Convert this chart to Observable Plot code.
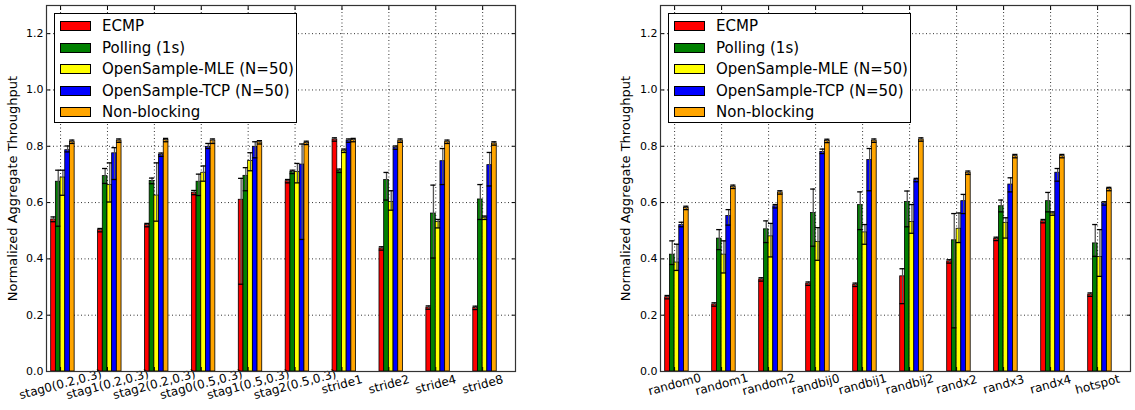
<!DOCTYPE html>
<html><head><meta charset="utf-8">
<script src="https://cdn.jsdelivr.net/npm/d3@7"></script>
<script src="https://cdn.jsdelivr.net/npm/@observablehq/plot@0.6"></script>
<style>
body{margin:0;background:#fff;font-family:"DejaVu Sans",sans-serif;}
#wrap{display:flex;width:1135px;height:410px;}
.panel{position:relative;}
.legend{position:absolute;top:13px;width:241px;height:108px;border:1px solid #000;background:#fff;}
.row{position:absolute;left:0;height:20px;}
.sw{position:absolute;left:5px;width:29px;height:8px;border:1px solid #000;}
.lab{position:absolute;left:47px;font-size:15px;line-height:20px;white-space:nowrap;color:#000;}
</style>
</head><body><div id="wrap"></div>
<script>
const series = ["ECMP","Polling (1s)","OpenSample-MLE (N=50)","OpenSample-TCP (N=50)","Non-blocking"];
const colors = ["#ff0000","#008000","#ffff00","#0000ff","#ffa500"];
const yTicks = [0,0.2,0.4,0.6,0.8,1.0,1.2];
const yTitle = "Normalized Aggregate Throughput";

// Left panel
const leftGroups = ["stag0(0.2,0.3)","stag1(0.2,0.3)","stag2(0.2,0.3)","stag0(0.5,0.3)","stag1(0.5,0.3)","stag2(0.5,0.3)","stride1","stride2","stride4","stride8"];
const leftECMP     = [0.540,0.502,0.520,0.635,0.610,0.676,0.824,0.437,0.227,0.226];
const leftECMPLo   = [0.532,0.496,0.514,0.628,0.310,0.670,0.818,0.431,0.221,0.220];
const leftECMPHi   = [0.549,0.508,0.526,0.643,0.686,0.682,0.830,0.443,0.233,0.232];
const leftPoll     = [0.674,0.694,0.677,0.674,0.695,0.709,0.713,0.680,0.561,0.611];
const leftPollLo   = [0.516,0.668,0.667,0.625,0.642,0.703,0.707,0.609,0.403,0.540];
const leftPollHi   = [0.715,0.721,0.687,0.701,0.724,0.715,0.719,0.707,0.662,0.664];
const leftMLE      = [0.689,0.662,0.625,0.706,0.748,0.709,0.784,0.602,0.531,0.546];
const leftMLELo    = [0.626,0.602,0.534,0.676,0.713,0.670,0.778,0.573,0.510,0.540];
const leftMLEHi    = [0.715,0.741,0.741,0.730,0.777,0.739,0.790,0.642,0.540,0.552];
const leftTCP      = [0.786,0.775,0.770,0.798,0.798,0.735,0.820,0.795,0.747,0.733];
const leftTCPLo    = [0.780,0.682,0.764,0.792,0.759,0.469,0.814,0.789,0.664,0.659];
const leftTCPHi    = [0.801,0.795,0.776,0.810,0.816,0.808,0.826,0.801,0.792,0.778];
const leftNB       = [0.816,0.820,0.822,0.820,0.814,0.812,0.822,0.820,0.816,0.810];
const leftNBLo     = [0.810,0.814,0.816,0.810,0.808,0.806,0.816,0.814,0.810,0.804];
const leftNBHi     = [0.822,0.826,0.828,0.826,0.820,0.818,0.828,0.826,0.822,0.816];

// Right panel
const rightGroups = ["random0","random1","random2","randbij0","randbij1","randbij2","randx2","randx3","randx4","hotspot"];
const rightECMP    = [0.264,0.238,0.327,0.312,0.308,0.338,0.391,0.471,0.534,0.273];
const rightECMPLo  = [0.258,0.232,0.321,0.306,0.302,0.241,0.385,0.465,0.528,0.267];
const rightECMPHi  = [0.270,0.244,0.333,0.318,0.314,0.365,0.397,0.477,0.540,0.279];
const rightPoll    = [0.415,0.472,0.505,0.563,0.591,0.602,0.466,0.587,0.605,0.455];
const rightPollLo  = [0.380,0.433,0.458,0.445,0.504,0.514,0.155,0.567,0.567,0.409];
const rightPollHi  = [0.464,0.504,0.535,0.648,0.638,0.641,0.561,0.609,0.636,0.522];
const rightMLE     = [0.387,0.415,0.480,0.460,0.494,0.531,0.507,0.528,0.561,0.407];
const rightMLELo   = [0.359,0.350,0.407,0.395,0.452,0.491,0.458,0.474,0.555,0.338];
const rightMLEHi   = [0.452,0.464,0.526,0.511,0.522,0.593,0.563,0.546,0.567,0.504];
const rightTCP     = [0.520,0.552,0.587,0.780,0.751,0.680,0.605,0.664,0.706,0.597];
const rightTCPLo   = [0.514,0.520,0.581,0.774,0.642,0.674,0.561,0.638,0.676,0.591];
const rightTCPHi   = [0.530,0.575,0.593,0.790,0.792,0.686,0.629,0.688,0.721,0.603];
const rightNB      = [0.581,0.656,0.636,0.819,0.820,0.824,0.706,0.765,0.765,0.648];
const rightNBLo    = [0.575,0.650,0.630,0.813,0.814,0.818,0.700,0.759,0.759,0.642];
const rightNBHi    = [0.587,0.662,0.642,0.825,0.826,0.830,0.712,0.771,0.771,0.654];

const barW = 0.1, capW = 0.055, tickOffset = 0.2;

function chart(groups, vals, los, his, o) {
  const rows = [];
  groups.forEach((g, i) => series.forEach((s, j) => {
    rows.push({s, v: vals[j][i], lo: los[j][i], hi: his[j][i],
      x1: i + j * barW, x2: i + (j + 1) * barW, xc: i + (j + 0.5) * barW});
  }));
  const xTicks = groups.map((g, i) => i + tickOffset);
  const grid = {stroke: "#000", strokeOpacity: 0.8, strokeDasharray: "1,2.5", strokeWidth: 1};
  return Plot.plot({
    width: o.width, height: 410,
    marginLeft: o.marginLeft, marginRight: o.marginRight, marginTop: 5, marginBottom: 39,
    x: {domain: [-0.1, 9.9]},
    y: {domain: [0, 1.3]},
    color: {domain: series, range: colors},
    style: {fontFamily: "DejaVu Sans", background: "#fff", color: "#000"},
    marks: [
      Plot.gridY(yTicks, grid),
      Plot.gridX(xTicks, grid),
      Plot.rectY(rows, {x1: "x1", x2: "x2", y1: 0, y2: "v", fill: "s", stroke: "#000", strokeWidth: 0.8}),
      Plot.ruleX(rows, {x: "xc", y1: "lo", y2: "hi", stroke: "#555", strokeWidth: 1.3}),
      Plot.ruleY(rows, {y: "hi", x1: d => d.xc - capW, x2: d => d.xc + capW, stroke: "#000", strokeWidth: 1.3}),
      Plot.ruleY(rows, {y: "lo", x1: d => d.xc - capW, x2: d => d.xc + capW, stroke: "#000", strokeWidth: 1.3}),
      Plot.axisY(yTicks, {tickFormat: d3.format(".1f"), tickSize: -4, tickPadding: 7, fontSize: 11, label: null}),
      Plot.axisY(yTicks, {anchor: "right", tickSize: -4, tickFormat: () => "", label: null}),
      Plot.axisX(xTicks, {tickFormat: (d, i) => groups[i], tickRotate: -15, textAnchor: "middle",
        tickSize: -4, tickPadding: 17, fontSize: 12, label: null}),
      Plot.axisX(xTicks, {anchor: "top", tickSize: -4, tickFormat: () => "", label: null}),
      Plot.text([yTitle], {text: d => d, frameAnchor: "left", dx: -o.labelOffset, rotate: -90,
        fontSize: 13, textAnchor: "middle", lineAnchor: "middle", fill: "#000"}),
      Plot.frame({stroke: "#333", strokeWidth: 1.2})
    ]
  });
}

function legend(left) {
  const box = document.createElement("div");
  box.className = "legend";
  box.style.left = left + "px";
  series.forEach((s, j) => {
    const r = document.createElement("div");
    r.className = "row";
    r.style.top = (2 + j * 21.6) + "px";
    const sw = document.createElement("div");
    sw.className = "sw"; sw.style.top = "5px"; sw.style.background = colors[j];
    const lab = document.createElement("div");
    lab.className = "lab"; lab.textContent = s;
    r.appendChild(sw); r.appendChild(lab);
    box.appendChild(r);
  });
  return box;
}

const wrap = document.getElementById("wrap");
const p1 = document.createElement("div"); p1.className = "panel";
p1.appendChild(chart(leftGroups, [leftECMP, leftPoll, leftMLE, leftTCP, leftNB],
  [leftECMPLo, leftPollLo, leftMLELo, leftTCPLo, leftNBLo],
  [leftECMPHi, leftPollHi, leftMLEHi, leftTCPHi, leftNBHi],
  {width: 567, marginLeft: 46, marginRight: 52, labelOffset: 34}));
p1.appendChild(legend(54));
const p2 = document.createElement("div"); p2.className = "panel";
p2.appendChild(chart(rightGroups, [rightECMP, rightPoll, rightMLE, rightTCP, rightNB],
  [rightECMPLo, rightPollLo, rightMLELo, rightTCPLo, rightNBLo],
  [rightECMPHi, rightPollHi, rightMLEHi, rightTCPHi, rightNBHi],
  {width: 568, marginLeft: 93, marginRight: 5, labelOffset: 35}));
p2.appendChild(legend(101));
wrap.appendChild(p1); wrap.appendChild(p2);
</script>
</body></html>
